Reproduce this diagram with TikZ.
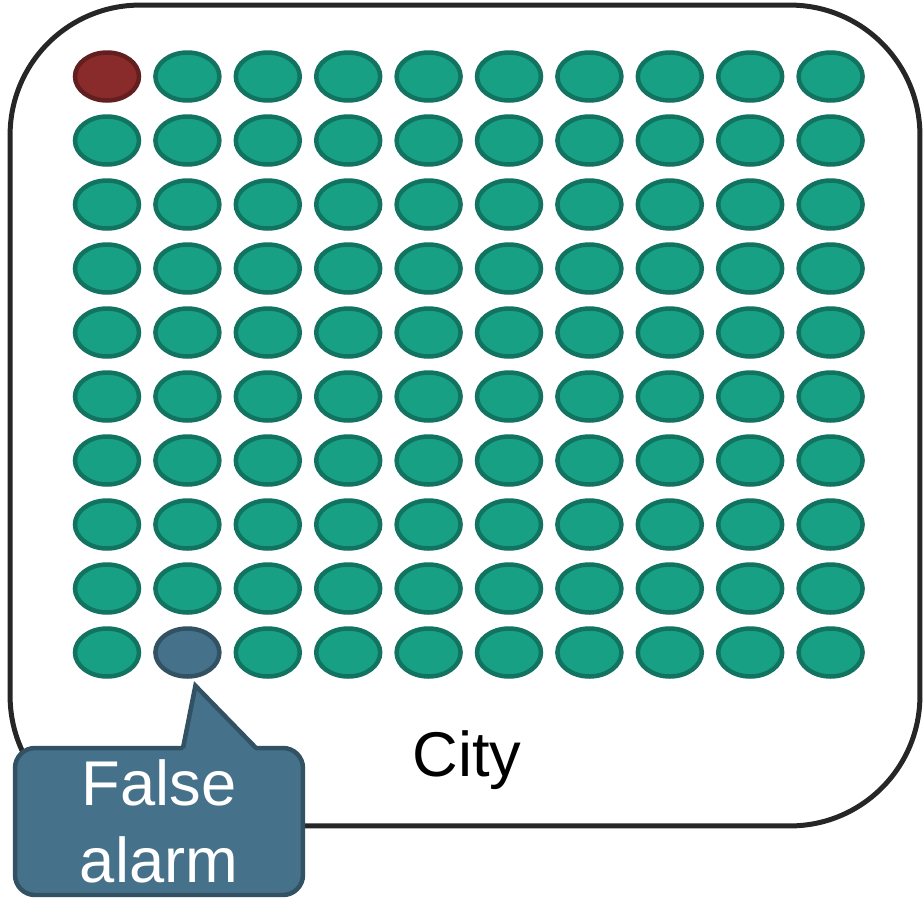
\documentclass[tikz,border=0pt]{standalone}
\usepackage{fontspec}
\setmainfont{Liberation Sans}
\usetikzlibrary{shapes.geometric, calc}
\definecolor{cteal}{HTML}{18A085}
\definecolor{cred}{HTML}{8A2B2B}
\definecolor{cblue}{HTML}{45728A}
\definecolor{cline}{HTML}{262626}
\tikzset{
  every picture/.style={x=0.02cm, y=-0.02cm},
  home/.style={ellipse, draw=#1!72!black, fill=#1, line width=0.09cm, minimum width=1.28cm, minimum height=0.96cm, inner sep=0pt},
  home/.default=cteal,
  citybox/.style={draw=cline, line width=0.1cm, rounded corners=2.6cm, minimum width=18.2cm, minimum height=16.42cm},
  bigtext/.style={font=\fontsize{36}{42}\selectfont},
  callbox/.style={draw=cblue!72!black, fill=cblue, line width=0.09cm, rounded corners=0.4cm, minimum width=5.76cm, minimum height=2.94cm, outer sep=0pt, text=white, align=center, font=\fontsize{36}{44}\selectfont},
  callline/.style={draw=cblue!72!black, line width=0.09cm, line join=miter},
}

\begin{document}
\begin{tikzpicture}
  \useasboundingbox (0,0) rectangle (923,900);
  \node[citybox] (city) at (465,415.5) {};
  \foreach \r in {0,...,9}
    \foreach \c in {0,...,9} {
      \def\tone{cteal}
      \ifnum\r\c=0 \def\tone{cred}\fi
      \ifnum\r\c=91 \def\tone{cblue}\fi
      \node[home=\tone] (h\r\c) at (107+80.4*\c, 76.5+64*\r) {};
    }
  \node[bigtext, anchor=base] (citytext) at (467,776) {City};
  \node[callbox] (alarm) at (159,821.5) {False\\alarm};
  \coordinate (tip) at ($(h91.south)+(8,7)$);
  \fill[cblue] ($(alarm.north west)+(168,3)$) -- (tip) -- ($(alarm.north west)+(241,3)$) -- cycle;
  \draw[callline] ($(alarm.north west)+(168,0)$) -- (tip) -- ($(alarm.north west)+(241,0)$);
\end{tikzpicture}
\end{document}
